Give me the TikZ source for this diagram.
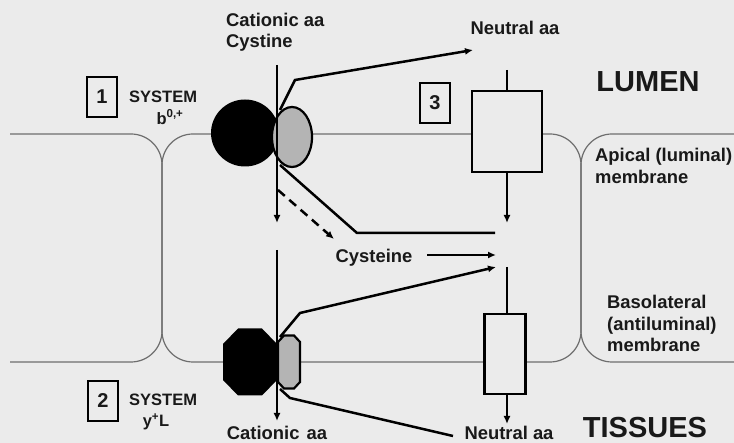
\documentclass[tikz,border=0pt]{standalone}
\usepackage{fontspec}
\setmainfont{Liberation Sans}
\usepackage{xcolor}
\usepackage{tikz}
\usetikzlibrary{positioning,arrows.meta,shapes,calc}

\definecolor{bggrey}{RGB}{235,235,235}
\definecolor{memgrey}{RGB}{110,110,110}
\definecolor{subgrey}{RGB}{180,180,180}
\definecolor{ink}{RGB}{25,25,25}

\tikzset{
    flow/.style={line width=2.5pt,-{Latex[length=8pt,width=7pt]}},
    link/.style={line width=2.5pt},
    membrane/.style={line width=1.2pt,color=memgrey,rounded corners=31pt},
    lbl/.style={text=ink,font=\fontsize{18.4}{21.5}\selectfont\bfseries,inner sep=0pt,align=left},
    syslbl/.style={text=ink,font=\fontsize{16.5}{20}\selectfont\bfseries,inner sep=0pt},
    biglbl/.style={text=ink,font=\fontsize{29}{33}\selectfont\bfseries,inner sep=0pt},
    numbox/.style={draw,line width=2pt,text=ink,font=\fontsize{20}{22}\selectfont\bfseries,
        minimum width=30pt,minimum height=40pt,inner sep=0pt},
    carrier/.style={draw,line width=2.5pt,fill=bggrey,inner sep=0pt}
}

\begin{document}
\begin{tikzpicture}[x=1pt,y=-1pt]
        \useasboundingbox (0,0) rectangle (734,443);
        \fill[bggrey] (0,0) rectangle (734,443);

        % cell outlines
        \draw[membrane] (10,134) -- (162,134) -- (162,362) -- (10,362);
        \draw[membrane] (162,134) rectangle (581,362);
        \draw[membrane] (740,134) -- (581,134) -- (581,362) -- (740,362);

        % transporters
        \node[ellipse,fill=black,minimum width=68pt,minimum height=67pt,inner sep=0pt] (bzero) at (245,133) {};
        \node[ellipse,draw,line width=2.2pt,fill=subgrey,minimum width=40pt,minimum height=60pt,inner sep=0pt] (bzerolight) at (292,137) {};
        \coordinate (yplus) at (250,362);
        \coordinate (ypluslight) at (289,362);
        \fill[black,shift={(yplus)}] (-27,-18) -- (-27,18) -- (-12,33.5) -- (12,33.5)
            -- (27,18) -- (27,-18) -- (12,-33.5) -- (-12,-33.5) -- cycle;
        \draw[line width=2.2pt,fill=subgrey,shift={(ypluslight)}] (-11,-20) -- (-11,20) -- (-5,26.5) -- (5,26.5)
            -- (11,20) -- (11,-20) -- (5,-26.5) -- (-5,-26.5) -- cycle;
        \node[carrier,minimum width=70pt,minimum height=81pt] (neutap) at (507,131.5) {};
        \node[carrier,minimum width=41pt,minimum height=80pt] (neutbl) at (505,354) {};

        % labels
        \node[lbl,anchor=west] (catin) at (226,32) {Cationic aa\\Cystine};
        \node[lbl] (neutin) at (515,28) {Neutral aa};
        \node[lbl] (cyst) at (374,258) {Cysteine};
        \node[lbl] (catout) at (277,433) {Cationic\hspace{2pt} aa};
        \node[lbl] (neutout) at (509,433) {Neutral aa};
        \node[biglbl] (lumen) at (648,82) {LUMEN};
        \node[biglbl] (tissues) at (645,428) {TISSUES};
        \node[lbl,anchor=west] (apical) at (595,166) {Apical (luminal)\\membrane};
        \node[lbl,anchor=west] (baso) at (607,323.5) {Basolateral\\(antiluminal)\\membrane};

        \node[numbox] (one) at (102,97) {1};
        \node[numbox] (two) at (103,401) {2};
        \node[numbox] (three) at (435,103) {3};
        \node[syslbl,anchor=west] (sysone) at (129,97) {SYSTEM};
        \node[syslbl] (bsup) at (170,117) {b\textsuperscript{0,+}};
        \node[syslbl,anchor=west] (systwo) at (129,400) {SYSTEM};
        \node[syslbl] (ysup) at (156,422) {y\textsuperscript{+}L};

        % end points
        \coordinate (cattop) at (277,65);
        \coordinate (catmid) at (277,223);
        \coordinate (catlow) at (277,250);
        \coordinate (catend) at (277,421);
        \coordinate (neutend) at (473,50);
        \coordinate (meet) at (495,233);
        \coordinate (cyststart) at (427,255);
        \coordinate (cystend) at (496,255);
        \coordinate (ylatend) at (496,267);
        \coordinate (dashend) at (334,239);
        \coordinate (neutlow) at (453,436);

        % fluxes
        \draw[flow] (cattop) -- (catmid);
        \draw[flow] (catlow) -- (catend);
        \draw[flow] (280,110) -- (295,80) -- (neutend);
        \draw[link] (280,165) -- (357,233) -- (meet);
        \draw[flow,dash pattern=on 9pt off 6pt] (278,190) -- (dashend);
        \draw[flow] (cyststart) -- (cystend);
        \draw[flow] (280,337) -- (300,313) -- (ylatend);
        \draw[link] (280,389) -- (290,398) -- (neutlow);
        \draw[link] (507,70) -- (neutap.north);
        \draw[flow] (neutap.south) -- (507,223);
        \draw[link] (507,267) -- (507,314);
        \draw[flow] (507,394) -- (507,424);
    \end{tikzpicture}
\end{document}
